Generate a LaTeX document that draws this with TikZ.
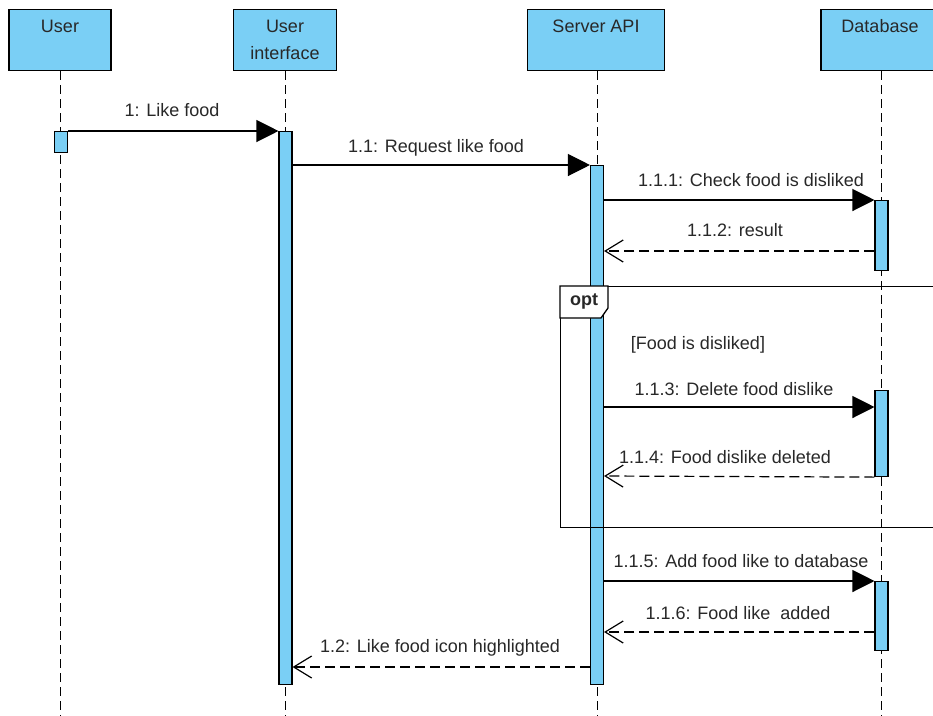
\documentclass[tikz,border=0pt]{standalone}
\usepackage{fontspec}
\setmainfont{Liberation Sans}
\usetikzlibrary{arrows.meta}
\definecolor{lifefill}{RGB}{122,207,245}
\definecolor{txt}{RGB}{40,40,40}

\begin{document}
\begin{tikzpicture}[x=1pt,y=-1pt,
  font=\fontsize{18}{27}\selectfont,
  head/.style={draw=black, line width=1.3pt, fill=lifefill, inner sep=0pt, anchor=north},
  lifeline/.style={draw=black, line width=1pt, dash pattern=on 9pt off 5pt},
  actbar/.style={draw=black, line width=1.1pt, fill=lifefill, inner sep=0pt,
                 minimum width=13pt, anchor=north},
  call/.style={draw=black, line width=1.2pt, -{Triangle[length=22pt,width=22pt]}},
  reply/.style={draw=black, line width=1.2pt, dash pattern=on 10pt off 5pt,
                -{Straight Barb[length=18pt,width=22pt,line width=1.2pt]}},
  lbl/.style={text=txt, anchor=base, inner sep=0pt},
  frame/.style={draw=black, line width=1.3pt},
]
\useasboundingbox (0,0) rectangle (933,715);
\clip (0,0) rectangle (933,715);
\fill[white] (0,0) rectangle (933,715);

% lifeline heads
\node[head, minimum width=102pt, minimum height=61pt] (user) at (60,9) {};
\node[head, minimum width=103pt, minimum height=61pt] (ui)   at (285,9) {};
\node[head, minimum width=137pt, minimum height=61pt] (srv)  at (596,9) {};
\node[head, minimum width=118pt, minimum height=61pt] (db)   at (880,9) {};
\node[lbl] (userT) at (60,32) {User};
\node[lbl] (uiT)   at (285,32) {User};
\node[lbl] (uiT2)  at (285,59) {interface};
\node[lbl] (srvT)  at (596,32) {Server API};
\node[lbl] (dbT)   at (880,32) {Database};

% lifelines
\coordinate (userEnd) at (60,716);
\coordinate (uiEnd)   at (285,716);
\coordinate (srvEnd)  at (597,716);
\coordinate (dbEnd)   at (881,716);
\draw[lifeline] (user.south) -- (user.south |- userEnd);
\draw[lifeline] (ui.south)   -- (ui.south |- uiEnd);
\draw[lifeline] (srv.south -| srvEnd) -- (srvEnd);
\draw[lifeline] (db.south -| dbEnd) -- (dbEnd);

% activations
\node[actbar, minimum height=21pt]  (userBar) at (61,131) {};
\node[actbar, minimum height=553pt] (uiBar)   at (285.5,131) {};
\node[actbar, minimum height=519pt] (srvBar)  at (597,165) {};
\node[actbar, minimum height=70pt]  (dbBar1)  at (881.5,200) {};
\node[actbar, minimum height=86pt]  (dbBar2)  at (881.5,390) {};
\node[actbar, minimum height=69pt]  (dbBar3)  at (881.5,581) {};

% opt combined fragment, drawn over the activation of the server
\node[frame, inner sep=0pt, anchor=north west, minimum width=400pt, minimum height=241pt] (opt) at (560,286) {};
\draw[frame, fill=white] (opt.north west) -- ++(48,0) -- ++(0,22) -- ++(-7,10) -- ++(-41,0) -- cycle;
\node[lbl, font=\fontsize{18}{27}\selectfont\bfseries] (optT) at (584,305) {opt};
\node[lbl] (guard) at (698,349) {[Food is disliked]};

% messages
\coordinate (y112) at (0,251);
\coordinate (y113) at (0,407);
\coordinate (y114) at (0,476);
\coordinate (y116) at (0,632);
\coordinate (y12)  at (0,667);

\draw[call] (userBar.north east) -- (uiBar.north west);
\node[lbl] (m1) at (172,116) {1: Like food};

\draw[call] (uiBar.east |- srvBar.north) -- (srvBar.north west);
\node[lbl] (m11) at (436,152) {1.1: Request like food};

\draw[call] (srvBar.east |- dbBar1.north) -- (dbBar1.north west);
\node[lbl] (m111) at (751,186) {1.1.1: Check food is disliked};

\draw[reply] (dbBar1.west |- y112) -- (srvBar.east |- y112);
\node[lbl] (m112) at (735,236) {1.1.2: result};

\draw[call] (srvBar.east |- y113) -- (dbBar2.west |- y113);
\node[lbl] (m113) at (734,395) {1.1.3: Delete food dislike};

\draw[reply] (dbBar2.south west) -- (srvBar.east |- y114);
\node[lbl] (m114) at (725,463) {1.1.4: Food dislike deleted};

\draw[call] (srvBar.east |- dbBar3.north) -- (dbBar3.north west);
\node[lbl] (m115) at (741,567) {1.1.5: Add food like to database};

\draw[reply] (dbBar3.west |- y116) -- (srvBar.east |- y116);
\node[lbl] (m116) at (738,619) {1.1.6: Food like\ \ added};

\draw[reply] (srvBar.west |- y12) -- (uiBar.east |- y12);
\node[lbl] (m12) at (440,652) {1.2: Like food icon highlighted};
\end{tikzpicture}
\end{document}
